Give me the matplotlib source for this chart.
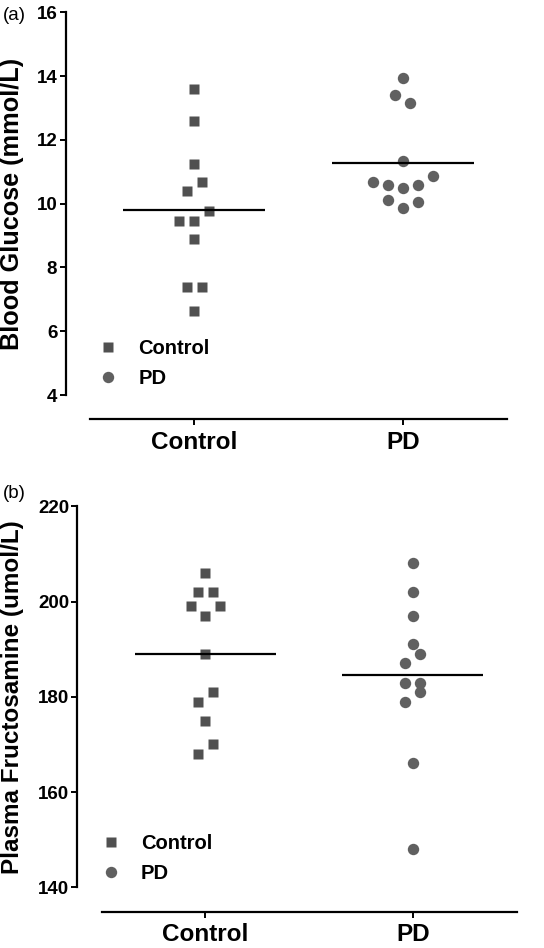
import numpy as np
import matplotlib
matplotlib.use("Agg")
import matplotlib.pyplot as plt

plt.rcParams['font.family'] = ['Liberation Sans', 'DejaVu Sans']
plt.rcParams['font.weight'] = 'bold'
plt.rcParams['axes.labelweight'] = 'bold'

groups = ["Control", "PD"]

# (a) blood glucose, mmol/L
glu_control = [13.6, 12.6, 11.24, 10.68, 10.4, 9.76, 9.47, 9.47, 8.9, 7.38, 7.38, 6.63]
glu_pd = [13.95, 13.4, 13.15, 11.35, 10.86, 10.69, 10.6, 10.6, 10.5, 10.1, 10.06, 9.85]
# scatter column of each point (as drawn in the figure)
glu_control_col = [0, 0, 0, 1, -1, 2, -2, 0, 0, -1, 1, 0]
glu_pd_col = [0, -1, 1, 0, 4, -4, -2, 2, 0, -2, 2, 0]

# (b) plasma fructosamine, umol/L
fru_control = [206, 202, 202, 199, 199, 197, 189, 181, 179, 175, 170, 168]
fru_pd = [208, 202, 197, 191, 189, 187, 183, 183, 181, 179, 166, 148]
fru_control_col = [0, -1, 1, -2, 2, 0, 0, 1, -1, 0, 1, -1]
fru_pd_col = [0, 0, 0, 0, 1, -1, -1, 1, 1, -1, 0, 0]

W, H = 544, 948
fig = plt.figure(figsize=(W / 100, H / 100), dpi=100)

STEP = 0.036
sq_color = '#505050'
ci_color = '#606060'


def panel(ax, ctrl, pd_, ctrl_col, pd_col, ylim, yticks, ylabel, label_x, label_size, leg_anchor):
    ax.plot(0 + STEP * np.array(ctrl_col), ctrl, 's', color=sq_color, ms=7.8,
            mec='none', label=groups[0], zorder=3)
    ax.plot(1 + STEP * np.array(pd_col), pd_, 'o', color=ci_color, ms=8.2,
            mec='none', label=groups[1], zorder=3)
    for x, vals in [(0, ctrl), (1, pd_)]:
        ax.hlines(np.mean(vals), x - 0.34, x + 0.34, color='black', lw=1.6, zorder=4)

    ax.set_xlim(-0.5, 1.5)
    ax.set_ylim(*ylim)
    ax.set_yticks(yticks)
    ax.set_xticks([0, 1])
    ax.set_xticklabels(groups)
    ax.spines['top'].set_visible(False)
    ax.spines['right'].set_visible(False)
    ax.spines['left'].set_position(('outward', 17.5))
    ax.spines['bottom'].set_position(('outward', 17.5))
    ax.spines['left'].set_linewidth(1.6)
    ax.spines['bottom'].set_linewidth(1.6)
    ax.tick_params(axis='both', width=1.4, length=4.5, color='black')
    ax.tick_params(axis='y', labelsize=13.5, pad=1.5)
    ax.tick_params(axis='x', labelsize=17.5, pad=4)
    ax.set_ylabel(ylabel, fontsize=label_size)
    ax.yaxis.set_label_coords(label_x, 0.5)
    ax.legend(loc='lower left', bbox_to_anchor=leg_anchor, frameon=False,
              prop={'size': 14.5, 'weight': 'bold'}, handlelength=1.0,
              handletextpad=1.0, labelspacing=0.55, borderaxespad=0)


ax1 = fig.add_axes([90 / W, 1 - 395 / H, 417 / W, 382.7 / H])
panel(ax1, glu_control, glu_pd, glu_control_col, glu_pd_col, (4, 16),
      [4, 6, 8, 10, 12, 14, 16], "Blood Glucose (mmol/L)", -0.158, 18.2, (0.0, -0.003))

ax2 = fig.add_axes([101.7 / W, 1 - 887.3 / H, 415 / W, 381 / H])
panel(ax2, fru_control, fru_pd, fru_control_col, fru_pd_col, (140, 220),
      [140, 160, 180, 200, 220], "Plasma Fructosamine (umol/L)", -0.187, 17.5, (-0.022, -0.009))

fig.text(3 / W, 1 - 15 / H, "(a)", fontsize=13.5, fontweight='normal', va='center', ha='left')
fig.text(3 / W, 1 - 493 / H, "(b)", fontsize=13.5, fontweight='normal', va='center', ha='left')

fig.savefig("out.png", dpi=100)
